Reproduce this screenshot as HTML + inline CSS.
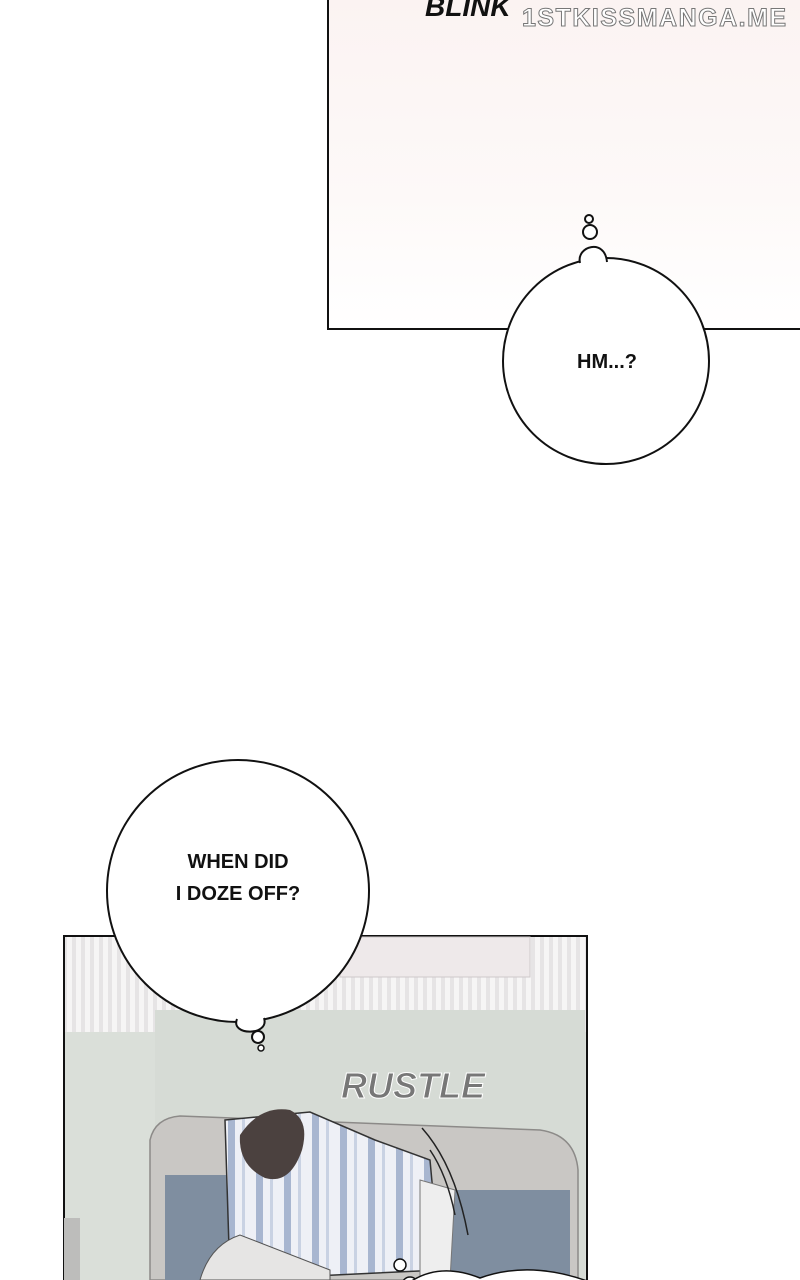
<!DOCTYPE html>
<html><head><meta charset="utf-8"><style>
html,body{margin:0;padding:0;background:#fff;}
svg{display:block;}
text{font-family:"Liberation Sans",sans-serif;}
</style></head><body>
<svg width="800" height="1280" viewBox="0 0 800 1280" xmlns="http://www.w3.org/2000/svg">
<defs>
<linearGradient id="tg" x1="0" y1="0" x2="0" y2="1">
<stop offset="0" stop-color="#fbf3f2"/><stop offset="0.6" stop-color="#fdf9f8"/><stop offset="1" stop-color="#ffffff"/>
</linearGradient>
<pattern id="st" width="9" height="10" patternUnits="userSpaceOnUse">
<rect width="9" height="10" fill="#f6f5f5"/><rect width="4" height="10" fill="#e6e4e5"/>
</pattern>
<pattern id="pj" width="28" height="10" patternUnits="userSpaceOnUse">
<rect width="28" height="10" fill="#eef0f6"/><rect x="4" width="7" height="10" fill="#a8b6d0"/><rect x="18" width="3" height="10" fill="#c9d2e3"/>
</pattern>
</defs>
<!-- top panel -->
<rect x="328" y="-2" width="474" height="331" fill="url(#tg)" stroke="#111" stroke-width="2"/>
<text x="425" y="16" font-size="28" font-weight="bold" fill="#111" font-style="italic">BLINK</text>
<text x="522" y="26" font-size="25" font-weight="bold" fill="#fff" stroke="#777" stroke-width="1" letter-spacing="1.5">1STKISSMANGA.ME</text>
<!-- HM bubble -->
<circle cx="606" cy="361" r="103" fill="#fff" stroke="#111" stroke-width="2"/>
<path d="M579 270 L580 262 C576 246 605 238 607 262 L607 270 Z" fill="#fff"/>
<path d="M580 263 C576 246 605 238 607 262" fill="none" stroke="#111" stroke-width="2"/>
<circle cx="590" cy="232" r="7" fill="#fff" stroke="#111" stroke-width="2"/>
<circle cx="589" cy="219" r="4" fill="#fff" stroke="#111" stroke-width="2"/>
<text x="607" y="368" font-size="20" font-weight="bold" text-anchor="middle" fill="#111">HM...?</text>
<!-- bottom panel -->
<rect x="64" y="936" width="523" height="346" fill="#dadfd9" stroke="#111" stroke-width="2"/>
<rect x="65" y="937" width="521" height="95" fill="url(#st)"/>
<rect x="155" y="1010" width="430" height="270" fill="#d6dbd5"/>
<rect x="340" y="937" width="190" height="40" fill="#eee9ea" stroke="#cfc9ca"/>
<!-- bed -->
<path d="M150 1280 L150 1140 Q155 1118 180 1116 L540 1130 Q575 1135 578 1170 L578 1280 Z" fill="#c9c7c4" stroke="#8c8a88" stroke-width="1.5"/>
<rect x="165" y="1175" width="120" height="105" fill="#7f8ea0"/>
<rect x="450" y="1190" width="120" height="90" fill="#7f8ea0"/>
<rect x="64" y="1218" width="16" height="62" fill="#bdbdbb"/>
<!-- person -->
<path d="M225 1120 L310 1112 L375 1140 L430 1160 L440 1270 L230 1280 Z" fill="url(#pj)" stroke="#333" stroke-width="1.5"/>
<path d="M240 1135 Q260 1105 290 1110 Q310 1120 302 1150 Q290 1185 265 1178 Q238 1165 240 1135 Z" fill="#4b413f"/>
<path d="M200 1280 Q210 1245 240 1235 L330 1270 L330 1280 Z" fill="#e6e5e4" stroke="#555"/>
<path d="M420 1180 L455 1190 L450 1280 L420 1280 Z" fill="#eeeeee" stroke="#777"/>
<text x="341" y="1098" font-size="36" font-weight="bold" fill="#777" stroke="#fff" stroke-width="1" font-style="italic">RUSTLE</text>
<path d="M422 1128 Q455 1165 468 1235" fill="none" stroke="#222" stroke-width="1.5"/>
<path d="M430 1150 Q447 1175 455 1215" fill="none" stroke="#222" stroke-width="1.5"/>
<!-- bottom right bubble edge -->
<circle cx="400" cy="1265" r="6" fill="#fff" stroke="#111" stroke-width="1.5"/>
<circle cx="410" cy="1285" r="8" fill="#fff" stroke="#111" stroke-width="1.5"/>
<path d="M410 1282 Q440 1262 480 1278 Q530 1260 590 1282" fill="#fff" stroke="#111" stroke-width="1.5"/>
<!-- WHEN bubble -->
<circle cx="238" cy="891" r="131" fill="#fff" stroke="#111" stroke-width="2"/>
<path d="M236 1010 L237 1019 C230 1036 270 1036 264 1018 L265 1010 Z" fill="#fff"/>
<path d="M237 1019 C230 1036 270 1036 264 1018" fill="none" stroke="#111" stroke-width="2"/>
<circle cx="258" cy="1037" r="6" fill="#fff" stroke="#111" stroke-width="2"/>
<circle cx="261" cy="1048" r="3" fill="#fff" stroke="#111" stroke-width="1.5"/>
<text x="238" y="868" font-size="20" font-weight="bold" text-anchor="middle" fill="#111">WHEN DID</text>
<text x="238" y="900" font-size="20" font-weight="bold" text-anchor="middle" fill="#111">I DOZE OFF?</text>
</svg>
</body></html>
